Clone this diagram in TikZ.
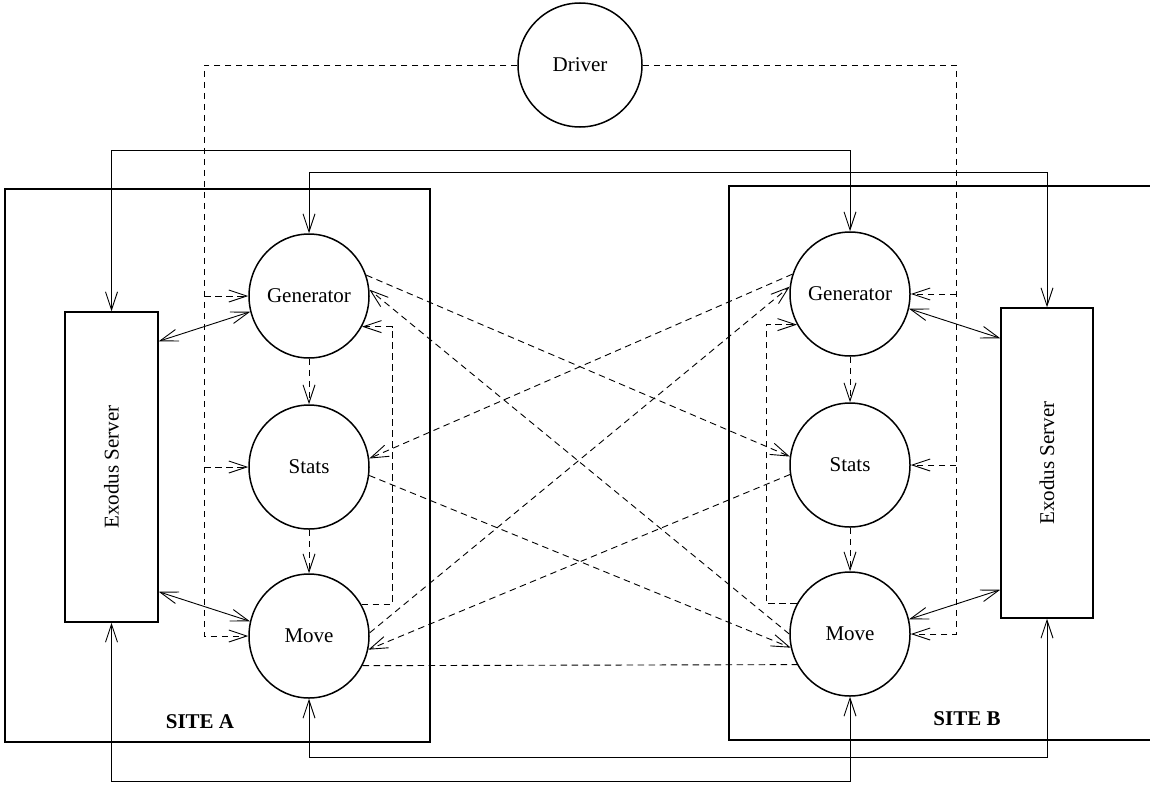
\documentclass[tikz,border=0pt]{standalone}
\usepackage{fontspec}
\setmainfont{Liberation Serif}
\usetikzlibrary{arrows.meta,shapes.geometric,calc}
\tikzset{
  bubble/.style={ellipse, draw, line width=1.5pt, minimum width=120pt, minimum height=124pt, inner sep=0pt},
  srv/.style={draw, line width=1.5pt, minimum width=93pt, minimum height=310pt, inner sep=0pt},
  frame/.style={line width=1.5pt},
  lnk/.style={line width=0.9pt},
  dsh/.style={line width=0.9pt, dash pattern=on 6.5pt off 4.5pt},
  tip/.style={>={Straight Barb[length=18pt,width=12pt]}},
}
\begin{document}
\begin{tikzpicture}[x=1pt,y=-1pt,tip,font=\fontsize{21}{25}\selectfont]
\useasboundingbox (0,0) rectangle (1150,784);
% site frames
\draw[frame] (5,189) rectangle (430,742);
\draw[frame] (1150,186) -- (729,186) -- (729,740) -- (1150,740);
\node (labA) at (200,722) {\bfseries SITE A};
\node (labB) at (967,719) {\bfseries SITE B};
% nodes
\node[bubble, minimum width=124pt] (drv) at (580,65) {Driver};
\node[bubble] (genA) at (309,296) {Generator};
\node[bubble] (statsA) at (309,467) {Stats};
\node[bubble] (moveA) at (309,636) {Move};
\node[bubble] (genB) at (850,294) {Generator};
\node[bubble] (statsB) at (850,465) {Stats};
\node[bubble] (moveB) at (850,634) {Move};
\node[srv] (exA) at (111.5,467) {};
\node[rotate=90] (exAt) at (exA.center) {Exodus Server};
\node[srv, minimum width=92pt] (exB) at (1047,463) {};
\node[rotate=90] (exBt) at (exB.center) {Exodus Server};
% level coordinates
\coordinate (t1) at (0,150);
\coordinate (t2) at (0,172);
\coordinate (b1) at (0,757);
\coordinate (b2) at (0,781);
\coordinate (dl) at (204,0);
\coordinate (dr) at (956,0);
\coordinate (la) at (392,0);
\coordinate (lb) at (766,0);
% solid long connectors
\draw[lnk,<->] (exA.north) -- (exA.north |- t1) -- (genB.north |- t1) -- (genB.north);
\draw[lnk,<->] (genA.north) -- (genA.north |- t2) -- (exB.north |- t2) -- (exB.north);
\draw[lnk,<->] (moveA.south) -- (moveA.south |- b1) -- (exB.south |- b1) -- (exB.south);
\draw[lnk,<->] (exA.south) -- (exA.south |- b2) -- (moveB.south |- b2) -- (moveB.south);
% server links
\draw[lnk,<->] ($(exA.north east)+(0,30)$) -- (genA.195);
\draw[lnk,<->] ($(exA.south east)+(0,-31)$) -- (moveA.166);
\draw[lnk,<->] (genB.-14) -- ($(exB.north west)+(0,31)$);
\draw[lnk,<->] (moveB.14) -- ($(exB.south west)+(0,-29)$);
% driver links
\draw[dsh,->] (drv.west) -- (dl |- drv.west) -- (dl |- moveA.west) -- (moveA.west);
\draw[dsh,->] (dl |- genA.west) -- (genA.west);
\draw[dsh,->] (dl |- statsA.west) -- (statsA.west);
\draw[dsh,->] (drv.east) -- (dr |- drv.east) -- (dr |- moveB.east) -- (moveB.east);
\draw[dsh,->] (dr |- genB.east) -- (genB.east);
\draw[dsh,->] (dr |- statsB.east) -- (statsB.east);
% internal chains
\draw[dsh,->] (genA.south) -- (statsA.north);
\draw[dsh,->] (statsA.south) -- (moveA.north);
\draw[dsh,->] (genB.south) -- (statsB.north);
\draw[dsh,->] (statsB.south) -- (moveB.north);
\draw[dsh,->] (moveA.31) -- (la |- moveA.31) -- (la |- genA.-30) -- (genA.-30);
\draw[dsh,->] (moveB.150) -- (lb |- moveB.150) -- (lb |- genB.210) -- (genB.210);
% cross links
\draw[dsh,->] (genA.20) -- (statsB.172);
\draw[dsh,->] (moveB.180) -- (genA.6);
\draw[dsh,->] (statsA.-8) -- (moveB.193);
\draw[dsh,->] (genB.161) -- (statsA.8);
\draw[dsh,->] (moveA.3) -- (genB.173);
\draw[dsh,->] (statsB.189) -- (moveA.-13);
\draw[dsh] (moveA.-29) -- (moveB.210);
\end{tikzpicture}
\end{document}
